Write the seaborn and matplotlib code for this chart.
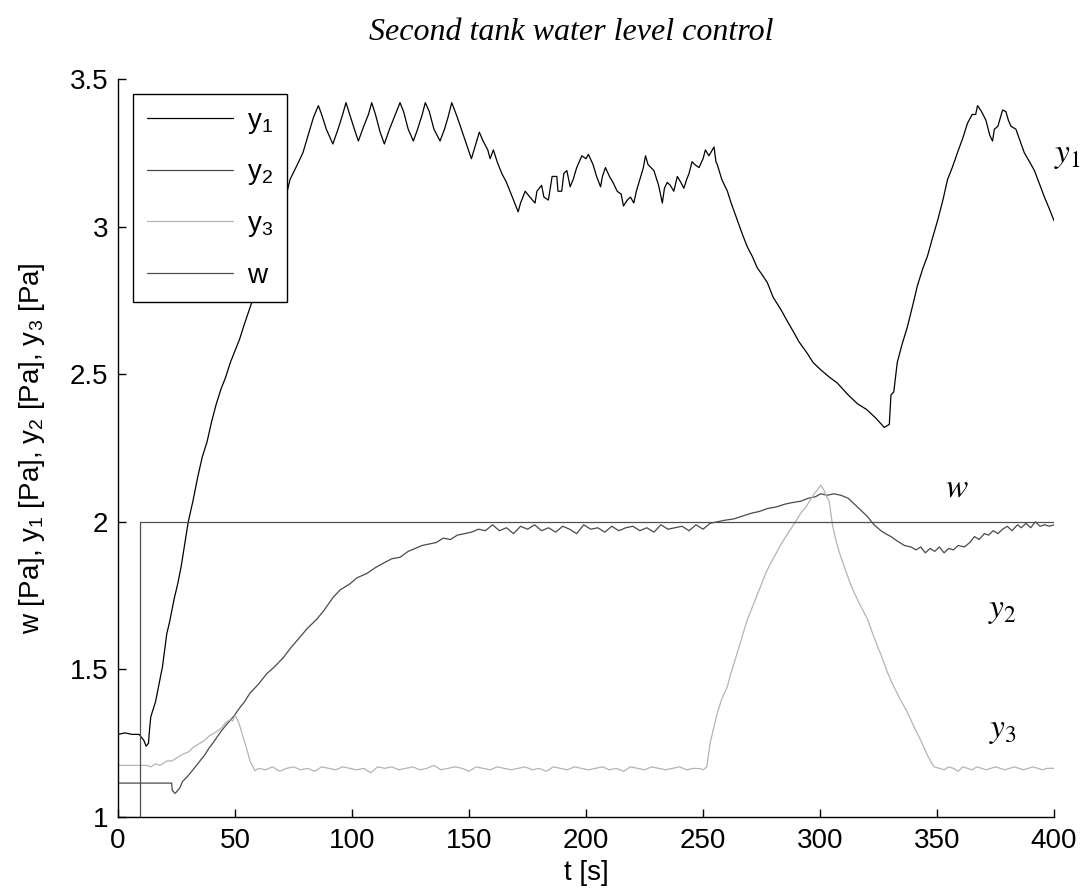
import matplotlib
matplotlib.use("Agg")
import matplotlib.pyplot as plt
import seaborn as sns
import pandas as pd

# ---------------- data ----------------
t_y1 = [0, 3, 6, 9, 10, 11, 12, 13, 13.5, 14, 16, 18, 19, 20.8, 22, 24, 25.5, 27, 28, 30,
        32, 34, 36, 38, 40, 42, 44, 46, 48, 50, 52, 54, 57, 60, 63, 66, 69, 72, 73.5, 76,
        79, 82, 83.5, 85.6, 87, 89, 91.8, 94, 96, 97.4, 99, 101, 102.7, 105, 107, 108.4, 110, 112, 113.8, 116,
        118, 120.5, 122, 124, 126.2, 128, 130, 131.3, 133, 135, 137.6, 139.5, 141, 142.6, 145, 148, 151, 152.5, 154.4, 156,
        158, 159, 160.4, 162, 164, 166, 167.5, 169, 171, 172, 174, 176, 178.2, 179, 181, 182, 183.9, 185.5, 187.5, 188,
        189.6, 190.5, 191.8, 193.2, 194.5, 196, 198.2, 200, 201, 203, 204.5, 206.2, 207, 208.3, 210, 211.5, 213.3, 215, 216, 217.6,
        219, 220.4, 221.5, 223, 224.5, 225.4, 226.5, 229, 231, 232.6, 233.5, 234.7, 236, 237.5, 239, 240.5, 241.8, 243, 244, 245.3,
        246.5, 248.3, 250, 251, 252.5, 254.7, 255.5, 256.1, 258, 260.4, 262, 264.7, 267, 269, 271, 273.2, 275, 277.5, 280, 283.2,
        286, 288.9, 291, 294.6, 297, 300.3, 304, 307.4, 312, 316, 320, 324, 327.4, 329.6, 330.3, 331.5, 333, 335, 337.3, 339.5,
        341.6, 344, 345.9, 348, 350.2, 352.5, 354.5, 356.5, 358.7, 361, 363, 365, 366.5, 367.3, 369, 370.9, 372.5, 373.7, 374.5, 376,
        378, 379.4, 380.5, 381.6, 383.7, 385.5, 387.3, 389.5, 391.6, 393.5, 395.9, 398, 400]
v_y1 = [1.28, 1.285, 1.28, 1.28, 1.27, 1.26, 1.24, 1.25, 1.30, 1.34, 1.39, 1.47, 1.51, 1.62, 1.66, 1.74, 1.79, 1.85, 1.90, 2.00,
        2.07, 2.15, 2.22, 2.27, 2.34, 2.40, 2.45, 2.49, 2.54, 2.58, 2.62, 2.67, 2.74, 2.82, 2.90, 2.97, 3.04, 3.11, 3.16, 3.20,
        3.25, 3.33, 3.37, 3.41, 3.38, 3.33, 3.28, 3.33, 3.38, 3.42, 3.38, 3.33, 3.29, 3.34, 3.38, 3.42, 3.38, 3.32, 3.28, 3.33,
        3.37, 3.42, 3.39, 3.33, 3.29, 3.33, 3.38, 3.42, 3.39, 3.33, 3.29, 3.33, 3.37, 3.42, 3.37, 3.30, 3.23, 3.27, 3.32, 3.29,
        3.26, 3.23, 3.26, 3.22, 3.18, 3.15, 3.12, 3.09, 3.05, 3.08, 3.12, 3.10, 3.08, 3.12, 3.14, 3.10, 3.09, 3.17, 3.17, 3.12,
        3.12, 3.18, 3.19, 3.135, 3.16, 3.20, 3.24, 3.23, 3.245, 3.21, 3.17, 3.135, 3.17, 3.20, 3.17, 3.15, 3.12, 3.11, 3.07, 3.09,
        3.10, 3.08, 3.12, 3.16, 3.20, 3.24, 3.21, 3.19, 3.14, 3.08, 3.13, 3.15, 3.14, 3.12, 3.17, 3.15, 3.13, 3.16, 3.18, 3.22,
        3.21, 3.20, 3.23, 3.26, 3.24, 3.27, 3.22, 3.21, 3.16, 3.12, 3.08, 3.02, 2.97, 2.93, 2.90, 2.86, 2.84, 2.81, 2.76, 2.72,
        2.68, 2.64, 2.61, 2.57, 2.54, 2.515, 2.49, 2.47, 2.43, 2.40, 2.38, 2.35, 2.32, 2.33, 2.43, 2.44, 2.54, 2.60, 2.66, 2.73,
        2.80, 2.86, 2.90, 2.96, 3.02, 3.09, 3.16, 3.20, 3.25, 3.30, 3.35, 3.38, 3.38, 3.41, 3.39, 3.36, 3.31, 3.29, 3.33, 3.34,
        3.395, 3.39, 3.36, 3.34, 3.33, 3.29, 3.25, 3.22, 3.19, 3.15, 3.10, 3.06, 3.02]

t_y2 = [0, 10, 22.9, 23.2, 24.4, 25.5, 26.5, 27.5, 29.4, 31, 33, 35, 37, 39, 40.5, 42.2, 44, 46, 49.3, 52,
        54, 56.4, 60, 63.5, 67, 70.6, 74, 77.8, 81, 84.9, 88, 92, 95, 99.1, 102, 106.3, 110, 113.4, 117, 120.5,
        124, 127, 130, 133, 136, 139, 142, 145, 148, 151, 154, 157, 160, 163, 166, 169, 172, 175, 178, 181,
        184, 187, 190, 193, 196, 199, 202, 205, 208, 211, 214, 217, 220, 223, 226, 229, 232, 235, 238, 241,
        244, 247, 250, 253, 256, 259, 263.2, 267, 271, 274, 277.5, 281, 285, 288, 291.8, 295, 298, 300.3, 303, 306,
        308.9, 312, 314, 316, 318, 320, 323.1, 326, 328, 330.3, 333, 336, 338.8, 341, 343, 345, 347, 349, 351, 353,
        355, 357, 359, 361.7, 364, 366, 368, 370.2, 372, 374, 376, 378, 380, 382, 384.4, 386, 388, 390, 392, 394,
        396, 398, 400]
v_y2 = [1.115, 1.115, 1.115, 1.09, 1.08, 1.09, 1.10, 1.12, 1.135, 1.15, 1.17, 1.19, 1.21, 1.235, 1.25, 1.27, 1.29, 1.31, 1.34, 1.37,
        1.39, 1.42, 1.45, 1.485, 1.51, 1.54, 1.575, 1.61, 1.64, 1.67, 1.70, 1.745, 1.77, 1.79, 1.81, 1.825, 1.845, 1.86, 1.875, 1.88,
        1.90, 1.91, 1.92, 1.925, 1.93, 1.945, 1.94, 1.955, 1.96, 1.965, 1.975, 1.97, 1.99, 1.97, 1.98, 1.96, 1.985, 1.975, 1.99, 1.97,
        1.98, 1.965, 1.985, 1.975, 1.96, 1.99, 1.975, 1.98, 1.965, 1.985, 1.97, 1.98, 1.985, 1.97, 1.98, 1.965, 1.99, 1.975, 1.98, 1.985,
        1.97, 1.99, 1.975, 1.995, 2.00, 2.005, 2.01, 2.02, 2.03, 2.035, 2.045, 2.05, 2.06, 2.065, 2.07, 2.08, 2.085, 2.095, 2.09, 2.095,
        2.09, 2.08, 2.065, 2.05, 2.035, 2.02, 1.99, 1.97, 1.96, 1.95, 1.935, 1.92, 1.915, 1.905, 1.915, 1.895, 1.91, 1.90, 1.915, 1.895,
        1.91, 1.905, 1.92, 1.915, 1.93, 1.95, 1.94, 1.96, 1.955, 1.97, 1.96, 1.975, 1.985, 1.97, 1.99, 1.98, 1.995, 1.98, 2.00, 1.985,
        1.99, 1.985, 1.99]

t_y3 = [0, 5, 10, 12.3, 14, 16, 18, 20.8, 23, 25, 27.9, 30, 32, 35, 37, 39, 42.2, 44, 46, 47.9,
        49, 50, 51, 52, 53.5, 55, 56.4, 58.5, 60, 63, 66, 69, 72, 75, 78, 81, 84, 87, 90, 93,
        96, 99, 102, 105, 108, 111, 114, 117, 120, 123, 126, 129, 132, 135, 138, 141, 144, 147, 150, 153,
        156, 159, 162, 165, 168, 171, 174, 177, 180, 183, 186, 189, 192, 195, 198, 201, 204, 207, 210, 213,
        216, 219, 222, 225, 228, 231, 234, 237, 240, 243, 246, 248.7, 250, 251.6, 253, 254.5, 256, 258, 260.3, 262,
        264, 265.5, 267.4, 269, 271, 273.2, 275, 277, 278.9, 281, 283, 284.6, 287, 289.5, 291.8, 294, 295.5, 297.5, 299, 300.3,
        301.5, 302.5, 303.9, 305.3, 307, 308.5, 310.3, 312.5, 314.6, 317, 320.3, 323, 326, 328.8, 331, 334.5, 337, 340.2, 343, 345.9,
        347.5, 348.8, 351, 353, 355, 357, 359, 361, 363, 365, 367, 369, 371, 373, 375, 377, 379, 381, 383, 385,
        387, 389, 391, 393, 395, 397, 400]
v_y3 = [1.175, 1.175, 1.175, 1.175, 1.17, 1.18, 1.175, 1.19, 1.19, 1.20, 1.214, 1.22, 1.235, 1.25, 1.26, 1.275, 1.29, 1.30, 1.32, 1.33,
        1.325, 1.345, 1.33, 1.31, 1.27, 1.23, 1.19, 1.157, 1.165, 1.16, 1.17, 1.155, 1.165, 1.17, 1.16, 1.165, 1.155, 1.17, 1.165, 1.16,
        1.17, 1.165, 1.16, 1.165, 1.15, 1.17, 1.165, 1.17, 1.16, 1.165, 1.17, 1.16, 1.165, 1.175, 1.16, 1.165, 1.17, 1.165, 1.155, 1.17,
        1.165, 1.16, 1.17, 1.165, 1.16, 1.165, 1.17, 1.16, 1.165, 1.155, 1.17, 1.165, 1.16, 1.17, 1.165, 1.16, 1.165, 1.17, 1.16, 1.165,
        1.155, 1.17, 1.165, 1.16, 1.17, 1.165, 1.16, 1.165, 1.17, 1.16, 1.165, 1.164, 1.16, 1.17, 1.25, 1.30, 1.35, 1.40, 1.44, 1.49,
        1.54, 1.58, 1.63, 1.67, 1.71, 1.755, 1.79, 1.83, 1.86, 1.89, 1.92, 1.94, 1.97, 2.00, 2.03, 2.05, 2.07, 2.095, 2.11, 2.124,
        2.11, 2.09, 2.07, 1.99, 1.93, 1.89, 1.85, 1.80, 1.76, 1.72, 1.67, 1.61, 1.55, 1.49, 1.45, 1.395, 1.36, 1.305, 1.26, 1.21,
        1.185, 1.17, 1.165, 1.16, 1.17, 1.165, 1.155, 1.17, 1.165, 1.16, 1.17, 1.165, 1.16, 1.165, 1.17, 1.165, 1.16, 1.165, 1.17, 1.165,
        1.16, 1.165, 1.17, 1.165, 1.16, 1.165, 1.165]

t_w = [0, 9.2, 9.2, 400]
v_w = [1.0, 1.0, 2.0, 2.0]

series_names = ["y$_1$", "y$_2$", "y$_3$", "w"]
series_colors = ["#000000", "#4a4a4a", "#b4b4b4", "#505050"]
annot_text = [r"$\mathit{y}_{\mathrm{1}}$", r"$\mathit{w}$", r"$\mathit{y}_{\mathrm{2}}$", r"$\mathit{y}_{\mathrm{3}}$"]
annot_t = [405.5, 358.4, 378, 378]
annot_v = [3.24, 2.113, 1.70, 1.293]
x_ticks = [0, 50, 100, 150, 200, 250, 300, 350, 400]
y_ticks = [1, 1.5, 2, 2.5, 3, 3.5]
y_tick_labels = ["1", "1.5", "2", "2.5", "3", "3.5"]

# ---------------- style ----------------
sns.set_theme(style="ticks")
plt.rcParams["font.family"] = ["Liberation Sans", "DejaVu Sans"]
plt.rcParams["text.color"] = "black"
plt.rcParams["axes.labelcolor"] = "black"
plt.rcParams["mathtext.fontset"] = "custom"
plt.rcParams["mathtext.rm"] = "Liberation Sans"
plt.rcParams["mathtext.it"] = "Liberation Sans:italic"
plt.rcParams["mathtext.default"] = "regular"

fig = plt.figure(figsize=(10.88, 8.91), dpi=100)
ax = fig.add_axes([0.1085, 0.083, 0.8603, 0.8283])

frames = [
    pd.DataFrame({"t": t_y1, "v": v_y1}),
    pd.DataFrame({"t": t_y2, "v": v_y2}),
    pd.DataFrame({"t": t_y3, "v": v_y3}),
    pd.DataFrame({"t": t_w, "v": v_w}),
]
for df, name, col in zip(frames, series_names, series_colors):
    sns.lineplot(data=df, x="t", y="v", ax=ax, color=col, linewidth=0.9,
                 estimator=None, sort=False, label=name)

ax.set_xlim(0, 400)
ax.set_ylim(1, 3.5)
ax.set_xticks(x_ticks)
ax.set_xticklabels([str(v) for v in x_ticks])
ax.set_yticks(y_ticks)
ax.set_yticklabels(y_tick_labels)
ax.tick_params(direction="in", length=6, width=1, labelsize=20, colors="black")
ax.tick_params(axis="y", pad=7)
ax.tick_params(axis="x", pad=8)
for s in ["top", "right"]:
    ax.spines[s].set_visible(False)
for s in ["left", "bottom"]:
    ax.spines[s].set_linewidth(1)
    ax.spines[s].set_color("black")

ax.set_xlabel("t [s]", fontsize=20, labelpad=4, color="black")
ax.set_ylabel("w [Pa], y$_1$ [Pa], y$_2$ [Pa], y$_3$ [Pa]", fontsize=20, labelpad=16, color="black")

leg = ax.legend(loc="upper left", bbox_to_anchor=(0.016, 0.98), borderaxespad=0,
                fontsize=20, frameon=True, fancybox=False, edgecolor="black",
                handlelength=3.1, handletextpad=0.5, labelspacing=0.85, borderpad=0.5)
leg.get_frame().set_linewidth(1.0)
leg.get_frame().set_alpha(1)
for txt in leg.get_texts():
    txt.set_color("black")

for txt, tx, vy in zip(annot_text, annot_t, annot_v):
    ax.text(tx, vy, txt, fontsize=24, ha="center", va="center", color="black",
            math_fontfamily="stix", clip_on=False)

fig.text(0.525, 0.963, "Second tank water level control", fontsize=23, color="black",
         family="Liberation Serif", style="italic", ha="center", va="center")

fig.savefig("out.png", dpi=100, facecolor="white")
